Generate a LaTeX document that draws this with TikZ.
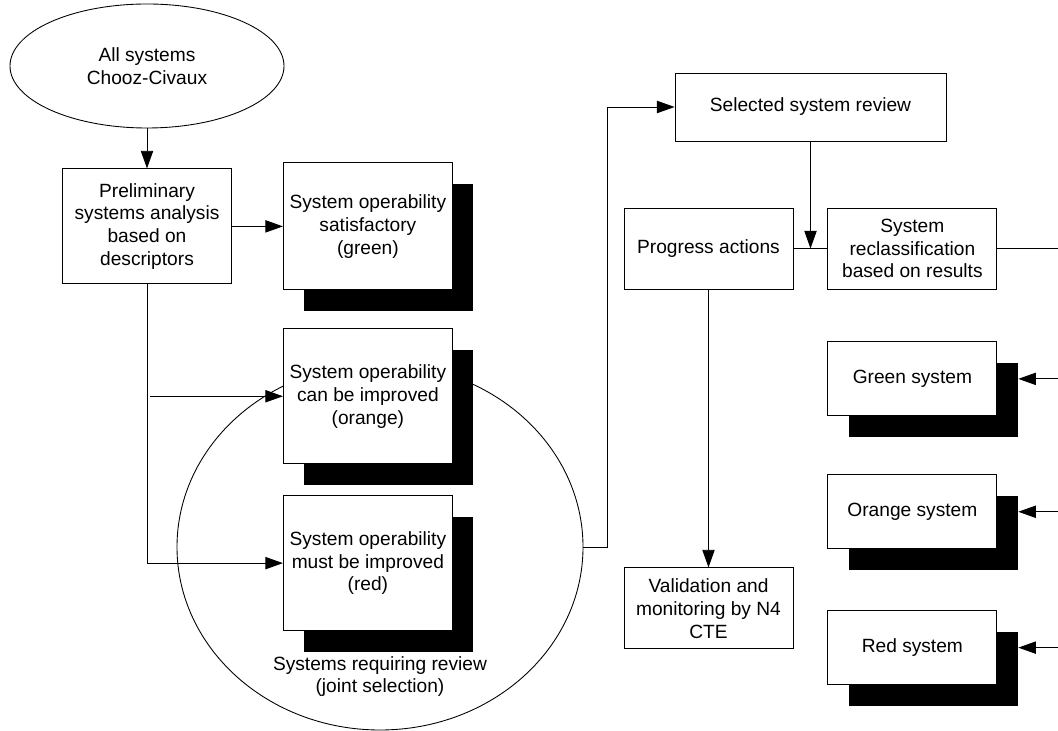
\documentclass[tikz,border=0pt]{standalone}
\usepackage{fontspec}
\setmainfont{Liberation Sans}
\usetikzlibrary{positioning,shapes.geometric,shadows,arrows.meta}

\begin{document}
\begin{tikzpicture}[>={Triangle[length=10pt,width=7pt]},line width=0.5pt,
	every node/.style={font=\fontsize{10.9}{13}\selectfont,align=center,inner sep=0pt},
	box/.style={shape=rectangle,draw,fill=white,minimum width=3.38cm},
	shbox/.style={box,drop shadow={shadow xshift=0.42cm,shadow yshift=-0.42cm,fill=black,opacity=1}},
	]
		\useasboundingbox (0,0) rectangle (21.16,-14.62);
		% the review group, behind the boxes
		\node (review) [draw, ellipse, minimum width=8.12cm, minimum height=7.32cm] at (7.6,-10.94) {};
		\node (reviewlbl) at (7.6,-13.53) {Systems requiring review\\(joint selection)};
		
		% create the nodes
		\node (all) [draw, ellipse, minimum width=5.48cm, minimum height=2.48cm] at (2.94,-1.32) {All systems\\Chooz-Civaux};
		\node (prelim) [box, minimum height=2.3cm, below=0.8cm of all] {Preliminary\\systems analysis\\based on\\descriptors};
		\node (sat) [shbox, minimum height=2.54cm, right=1.02cm of prelim] {System operability\\satisfactory\\(green)};
		\node (orange) [shbox, minimum height=2.7cm, below=0.76cm of sat] {System operability\\can be improved\\(orange)};
		\node (red) [shbox, minimum height=2.7cm, below=0.62cm of orange] {System operability\\must be improved\\(red)};
		
		\node (prog) [box, minimum height=1.62cm] at (14.17,-4.97) {Progress actions};
		\node (recl) [box, minimum height=1.62cm, right=0.68cm of prog] {System\\reclassification\\based on results};
		\node (sel) [box, minimum width=5.42cm, minimum height=1.36cm] at (16.21,-2.14) {Selected system review};
		\node (valid) [box, minimum height=1.62cm, below=5.56cm of prog] {Validation and\\monitoring by N4\\CTE};
		
		\node (green) [shbox, minimum height=1.48cm, below=1.04cm of recl] {Green system};
		\node (orsys) [shbox, minimum height=1.48cm, below=1.16cm of green] {Orange system};
		\node (redsys) [shbox, minimum height=1.48cm, below=1.22cm of orsys] {Red system};
		
		\coordinate (branch) at ([xshift=0.06cm]prelim.south |- orange.west);
		\coordinate (bend) at ([xshift=0.48cm]review.east);
		\coordinate (rim) at (21.16,0);
		
		% connect the nodes
		\draw[->] (all.south) -- (all.south |- prelim.north);
		\draw[->] (prelim) -- (sat);
		\draw[->] (prelim.south) |- (red);
		\draw[->] (branch) -- (orange);
		\draw[->] (review.east) -- (bend) |- (sel);
		\draw[->] (sel.south) -- (sel.south |- prog.east);
		\draw (prog) -- (recl);
		\draw[->] (prog) -- (valid);
		\draw (recl) -- (recl.east -| rim);
		
		\draw[->] (green.east -| rim) -- ([xshift=0.42cm]green.east);
		\draw[->] (orsys.east -| rim) -- ([xshift=0.42cm]orsys.east);
		\draw[->] (redsys.east -| rim) -- ([xshift=0.42cm]redsys.east);
		
	\end{tikzpicture}
\end{document}
